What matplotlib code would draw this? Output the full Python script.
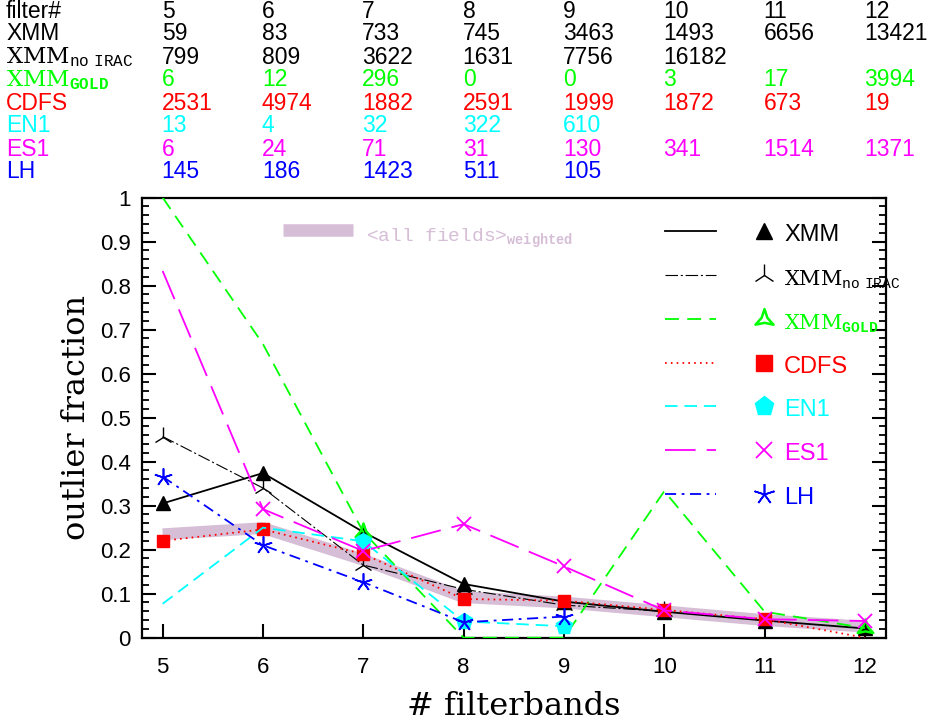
import numpy as np
import matplotlib
matplotlib.use('Agg')
import matplotlib.pyplot as plt
from matplotlib.ticker import MultipleLocator
from matplotlib.lines import Line2D
from matplotlib.path import Path
import matplotlib.transforms as mtransforms

plt.rcParams['font.family'] = ['Liberation Sans', 'DejaVu Sans']
plt.rcParams['mathtext.fontset'] = 'custom'
plt.rcParams['mathtext.rm'] = 'Liberation Mono'
plt.rcParams['mathtext.bf'] = 'Liberation Mono:bold'
plt.rcParams['lines.scale_dashes'] = False

filters = [5, 6, 7, 8, 9, 10, 11, 12]

# number of sources per filter count, for each field
n_xmm = [59, 83, 733, 745, 3463, 1493, 6656, 13421]
n_noirac = [799, 809, 3622, 1631, 7756, 16182]
n_gold = [6, 12, 296, 0, 0, 3, 17, 3994]
n_cdfs = [2531, 4974, 1882, 2591, 1999, 1872, 673, 19]
n_en1 = [13, 4, 32, 322, 610]
n_es1 = [6, 24, 71, 31, 130, 341, 1514, 1371]
n_lh = [145, 186, 1423, 511, 105]

# outlier fractions
f_xmm = [0.305, 0.374, 0.240, 0.122, 0.082, 0.059, 0.039, 0.021]
f_noirac = [0.457, 0.340, 0.165, 0.110, 0.074, 0.060]
f_gold = [1.0, 0.667, 0.240, 0.0, 0.0, 0.333, 0.059, 0.022]
f_cdfs = [0.220, 0.246, 0.190, 0.088, 0.084, 0.063, 0.042, 0.0]
f_en1 = [0.077, 0.250, 0.219, 0.037, 0.026]
f_es1 = [0.833, 0.292, 0.197, 0.258, 0.162, 0.062, 0.042, 0.038]
f_lh = [0.366, 0.210, 0.126, 0.035, 0.048]
f_all = [0.235, 0.249, 0.177, 0.092, 0.080, 0.060, 0.040, 0.025]

band_col = '#d6bed6'

# three-pointed open star for the GOLD sample
pts = [(np.cos(np.deg2rad(a)) * r, np.sin(np.deg2rad(a)) * r)
       for a, r in [(90, 1), (150, 0.32), (210, 1), (270, 0.32), (330, 1), (30, 0.32)]]
pts.append(pts[0])
gold_marker = Path(pts, [Path.MOVETO] + [Path.LINETO] * 5 + [Path.CLOSEPOLY])

series = [
    # label, counts, fractions, colour, dashes, lw, marker, marker kwargs
    ('XMM', n_xmm, f_xmm, 'black', None, 1.3, '^', dict(ms=10)),
    ('XMM$_{\\rm no\\ IRAC}$', n_noirac, f_noirac, 'black', (9, 2, 1.5, 2), 0.8, '2', dict(ms=14, mew=1.0)),
    ('XMM$_{\\bf GOLD}$', n_gold, f_gold, '#00ff00', (10, 6), 1.3, gold_marker, dict(ms=13, mfc='none', mew=1.8)),
    ('CDFS', n_cdfs, f_cdfs, 'red', (1.2, 3), 1.3, 's', dict(ms=9)),
    ('EN1', n_en1, f_en1, 'cyan', (9, 5), 1.3, 'p', dict(ms=12)),
    ('ES1', n_es1, f_es1, 'magenta', (22, 8), 1.3, 'x', dict(ms=10, mew=1.3)),
    ('LH', n_lh, f_lh, 'blue', (8, 4, 2, 4), 1.3, (5, 2, 0), dict(ms=13, mew=1.2)),
]

fig = plt.figure(figsize=(9.31, 7.24), dpi=100)
ax = fig.add_axes([0.1525, 0.1192, 0.7992, 0.608])

# weighted mean over all fields as a broad band underneath
ax.plot(filters, f_all, color=band_col, lw=8.5, solid_capstyle='butt', zorder=1)

# markers only where a field has at least 20 sources
for label, counts, frac, col, dashes, lw, mk, mkw in series:
    x = filters[:len(frac)]
    show = [c >= 20 for c in counts]
    ln, = ax.plot(x, frac, color=col, lw=lw, marker=mk, markevery=show,
                  mec=col, mfc=mkw.get('mfc', col), ms=mkw['ms'],
                  mew=mkw.get('mew', 1.0), zorder=3)
    if dashes is not None:
        ln.set_dashes(dashes)

ax.set_xlim(4.794, 12.21)
ax.set_ylim(0, 1)
ax.set_xticks(filters)
ax.yaxis.set_minor_locator(MultipleLocator(0.02))
ax.set_yticks(np.arange(0, 1.01, 0.1))
ax.set_yticklabels(['0', '0.1', '0.2', '0.3', '0.4', '0.5', '0.6', '0.7', '0.8', '0.9', '1'])
ax.tick_params(axis='y', which='major', direction='in', length=10, width=1.5,
               left=True, right=True, labelsize=16, pad=8)
ax.tick_params(axis='y', which='minor', direction='in', length=5, width=1.3,
               left=True, right=True)
ax.tick_params(axis='x', which='major', direction='in', length=10, width=1.5,
               top=False, labelsize=16, pad=14)
for s in ax.spines.values():
    s.set_linewidth(1.6)

ax.set_xlabel('# filterbands', family='DejaVu Serif', fontsize=23, labelpad=9)
ax.set_ylabel('outlier fraction', family='DejaVu Serif', fontsize=23, labelpad=6)

# hand-made legend on the right
def px(xp, yp):
    return (xp - 142) / 744, (637.7 - yp) / 440.5

rows_y = [231, 275, 319, 363, 406, 450, 494]
for (label, counts, frac, col, dashes, lw, mk, mkw), yp in zip(series, rows_y):
    x0, y0 = px(665, yp)
    x1, _ = px(716, yp)
    ln = Line2D([x0, x1], [y0, y0], color=col, lw=lw, transform=ax.transAxes)
    if dashes is not None:
        ln.set_dashes(dashes)
    ax.add_line(ln)
    xm, ym = px(764, yp)
    ax.plot([xm], [ym], marker=mk, color=col, mec=col, mfc=mkw.get('mfc', col),
            ms=mkw['ms'] + 2, mew=mkw.get('mew', 1.0), transform=ax.transAxes,
            linestyle='none')
    xt, yt = px(784, yp + 4)
    if label.startswith('XMM$'):
        fam, fs = 'DejaVu Serif', 15
    else:
        fam, fs = 'Liberation Sans', 17
    ax.text(xt, yt, label, color=col, fontsize=fs, family=fam,
            va='center', ha='left', transform=ax.transAxes)

bx0, by0 = px(283, 230)
bx1, _ = px(353, 230)
ax.add_line(Line2D([bx0, bx1], [by0, by0], color=band_col, lw=9,
                   solid_capstyle='butt', transform=ax.transAxes))
tx, ty = px(366, 238)
ax.text(tx, ty, '<all fields>$_{\\bf weighted}$', color=band_col, fontsize=14,
        family='Liberation Mono', va='center', ha='left', transform=ax.transAxes)

# source counts table above the plot
trans = mtransforms.blended_transform_factory(ax.transData, fig.transFigure)
table_rows = [
    ('filter#', filters, 'black'),
    ('XMM', n_xmm, 'black'),
    ('XMM$_{\\rm no\\ IRAC}$', n_noirac, 'black'),
    ('XMM$_{\\bf GOLD}$', n_gold, '#00ff00'),
    ('CDFS', n_cdfs, 'red'),
    ('EN1', n_en1, 'cyan'),
    ('ES1', n_es1, 'magenta'),
    ('LH', n_lh, 'blue'),
]
row_px = [11, 34, 57, 80, 103, 126, 149, 172]
for (name, vals, col), yp in zip(table_rows, row_px):
    yf = 1 - yp / 724
    fam = 'DejaVu Serif' if name.startswith('XMM$') else 'Liberation Sans'
    fig.text(6 / 931, yf, name, color=col, fontsize=16.5, family=fam,
             va='center', ha='left')
    for f, v in zip(filters, vals):
        fig.text(f - 0.01, yf, str(v), color=col, fontsize=16.5,
                 va='center', ha='left', transform=trans)

fig.savefig('out.png', dpi=100)
